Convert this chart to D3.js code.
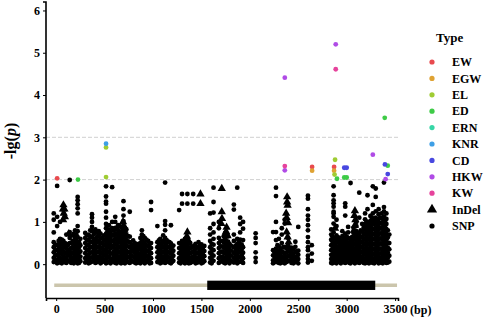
<!DOCTYPE html>
<html>
<head>
<meta charset="utf-8">
<script src="https://cdn.jsdelivr.net/npm/d3@7"></script>
<style>
  body { margin: 0; background: #fff; }
  text { font-family: "Liberation Serif", "Times New Roman", serif; font-weight: bold; }
</style>
</head>
<body>
<div id="chart"></div>
<script>
// SNP columns: [position (bp), -lg(p) values at that position]
const snpCols = [
  [-25, [0.05, 0.15, 0.28, 0.4, 0.52, 0.75, 1.05, 1.2]],
  [10, [0.02, 0.1, 0.22, 0.33, 0.45, 0.9, 1.12, 1.85]],
  [40, [0.04, 0.14, 0.26, 0.38, 0.5, 0.6, 1.0]],
  [75, [0.08, 0.18, 0.3, 0.42, 0.55]],
  [105, [0.03, 0.13, 0.25, 0.37, 0.48, 0.7]],
  [140, [0.06, 0.2, 0.35, 0.5, 0.62, 0.76, 1.99]],
  [170, [0.05, 0.15, 0.27, 0.4, 0.55, 0.68]],
  [195, [0.1, 0.22, 0.35, 0.48, 0.62, 0.8]],
  [222, [0.02, 0.12, 0.24, 0.36, 0.5, 0.64, 0.78, 0.9, 1.2, 1.32, 1.42, 1.51, 1.59]],
  [250, [0.07, 0.18, 0.3, 0.45, 0.6]],
  [300, [0.04, 0.14, 0.26, 0.38, 0.5, 0.62, 0.74]],
  [335, [0.02, 0.12, 0.22, 0.34, 0.46, 0.58, 0.7]],
  [370, [0.06, 0.16, 0.28, 0.4, 0.52, 0.64, 0.78, 0.88, 1.0, 1.1, 1.18]],
  [405, [0.03, 0.13, 0.24, 0.36, 0.48, 0.6, 0.74, 0.82]],
  [440, [0.08, 0.18, 0.3, 0.42, 0.55, 0.68, 0.78]],
  [475, [0.05, 0.15, 0.27, 0.38, 0.5, 0.62]],
  [515, [0.02, 0.12, 0.24, 0.36, 0.48, 0.6, 0.72, 0.85, 0.95, 1.1, 1.24, 1.43, 1.48, 1.6, 1.84]],
  [545, [0.06, 0.18, 0.3, 0.44, 0.58, 0.7, 0.82, 0.92]],
  [578, [0.1, 0.25, 0.4, 0.55, 0.7, 0.85, 1.0, 1.82]],
  [610, [0.03, 0.13, 0.25, 0.37, 0.49, 0.61, 0.73, 0.86, 1.0, 1.12]],
  [640, [0.07, 0.18, 0.3, 0.42, 0.55, 0.67, 0.8, 0.92]],
  [670, [0.02, 0.14, 0.26, 0.38, 0.5, 0.62, 0.75, 0.88]],
  [695, [0.05, 0.16, 0.28, 0.4, 0.53, 0.66, 0.78, 0.9, 1.02, 1.15, 1.3, 1.49]],
  [725, [0.08, 0.2, 0.32, 0.45, 0.57, 0.7, 0.82]],
  [760, [0.03, 0.15, 0.27, 0.4, 0.52, 0.65, 1.24]],
  [795, [0.06, 0.18, 0.3, 0.43, 0.56]],
  [825, [0.02, 0.12, 0.24, 0.36, 0.48]],
  [855, [0.04, 0.14, 0.25, 0.36, 0.48]],
  [885, [0.08, 0.2, 0.32, 0.44, 0.56, 0.7, 0.8]],
  [915, [0.02, 0.12, 0.24, 0.36, 0.5, 0.62]],
  [950, [0.06, 0.17, 0.3, 0.42, 0.55]],
  [980, [0.03, 0.14, 0.26, 0.38, 0.5, 1.28, 1.47]],
  [1045, [0.05, 0.16, 0.28, 0.4, 0.52, 0.9]],
  [1075, [0.02, 0.12, 0.24, 0.36, 0.48, 0.6]],
  [1105, [0.07, 0.18, 0.3, 0.42, 0.55, 0.68]],
  [1125, [0.03, 0.14, 0.26, 0.38, 0.5, 0.62, 0.8, 0.93, 1.02, 1.93]],
  [1155, [0.06, 0.17, 0.29, 0.41, 0.53]],
  [1185, [0.02, 0.13, 0.25, 0.37, 0.49, 0.92]],
  [1210, [0.08, 0.2, 0.32, 0.44]],
  [1270, [0.04, 0.14, 0.26, 0.38, 0.5, 1.28]],
  [1300, [0.08, 0.19, 0.31, 0.43, 0.55, 1.43, 1.66]],
  [1330, [0.02, 0.12, 0.23, 0.35, 0.47, 0.6]],
  [1355, [0.06, 0.17, 0.29, 0.41, 1.43, 1.66]],
  [1385, [0.03, 0.14, 0.26, 0.38, 0.5]],
  [1415, [0.07, 0.18, 0.3, 0.42, 1.43, 1.66]],
  [1440, [0.02, 0.13, 0.25, 0.37, 0.48]],
  [1470, [0.05, 0.16, 0.28, 0.4, 0.52]],
  [1500, [0.02, 0.12, 0.24, 0.36, 0.47]],
  [1530, [0.07, 0.19, 0.31, 0.43]],
  [1590, [0.04, 0.15, 0.27, 0.4, 0.55, 0.7, 0.85, 1.2]],
  [1625, [0.08, 0.2, 0.33, 0.46, 0.6, 0.75, 0.95, 1.22, 1.47, 1.81]],
  [1680, [0.03, 0.14, 0.26, 0.38, 0.5, 0.62, 0.85, 1.0]],
  [1715, [0.07, 0.18, 0.3, 0.42, 0.55]],
  [1745, [0.02, 0.13, 0.25, 0.37, 0.49, 0.62, 0.74]],
  [1775, [0.05, 0.17, 0.29, 0.41, 0.53, 0.66]],
  [1805, [0.08, 0.2, 0.32, 0.44]],
  [1835, [0.04, 0.15, 0.27, 0.4, 0.55, 0.7, 1.29, 1.41]],
  [1870, [0.02, 0.12, 0.24, 0.36, 0.48, 0.6, 1.81]],
  [1900, [0.06, 0.18, 0.3, 0.44, 0.58, 0.75, 0.95, 1.1]],
  [1930, [0.03, 0.14, 0.27, 0.4, 0.57, 0.84, 1.0]],
  [2060, [0.05, 0.15, 0.28, 0.5, 0.62, 0.73]],
  [2240, [0.02, 0.09, 0.21, 0.33, 0.76]],
  [2270, [0.05, 0.13, 0.25, 0.37, 0.57, 0.76, 1.0, 1.61, 1.81]],
  [2300, [0.03, 0.14, 0.27, 0.42, 0.6]],
  [2330, [0.06, 0.18, 0.3, 0.5, 0.7, 0.85]],
  [2360, [0.02, 0.12, 0.24, 0.4, 0.96, 1.05]],
  [2395, [0.07, 0.19, 0.3, 0.45, 0.62]],
  [2430, [0.03, 0.15, 0.27, 0.39]],
  [2470, [0.05, 0.17, 0.29, 0.41, 0.53]],
  [2500, [0.02, 0.12, 0.22, 0.32, 0.88]],
  [2600, [0.04, 0.12, 0.2, 0.33, 0.4, 0.52, 0.64, 0.8, 0.92, 1.05, 1.15, 1.3, 1.55, 1.62]],
  [2640, [0.08, 0.25, 0.45]],
  [2840, [0.03, 0.12, 0.22, 0.33, 0.45, 0.58, 0.7, 0.82]],
  [2865, [0.06, 0.16, 0.27, 0.38, 0.5, 0.62, 0.75, 0.96, 1.12, 1.2, 1.24, 1.36, 1.44, 1.51, 1.63, 1.84]],
  [2895, [0.02, 0.1, 0.2, 0.31, 0.42, 0.55, 0.68, 0.9, 1.05]],
  [2925, [0.05, 0.14, 0.25, 0.36, 0.48, 0.6]],
  [2955, [0.08, 0.18, 0.29, 0.4, 0.52, 0.66, 0.78]],
  [2985, [0.03, 0.12, 0.23, 0.34, 0.46, 0.58, 0.72, 1.15, 1.36, 1.44]],
  [3015, [0.06, 0.16, 0.27, 0.38, 0.5, 0.62, 0.75, 0.88]],
  [3040, [0.02, 0.11, 0.22, 0.33, 0.45, 0.57, 1.92]],
  [3070, [0.05, 0.15, 0.26, 0.37, 0.49, 0.61, 0.74, 0.86]],
  [3100, [0.08, 0.18, 0.29, 0.41, 0.53, 0.65, 0.78, 0.9, 1.0]],
  [3130, [0.03, 0.13, 0.24, 0.35, 0.47, 0.59, 0.72, 1.1, 1.69]],
  [3160, [0.06, 0.17, 0.28, 0.4, 0.52, 0.64, 0.77, 0.95]],
  [3190, [0.02, 0.12, 0.23, 0.34, 0.46, 0.58, 0.7, 0.82, 0.94, 1.06, 1.2]],
  [3215, [0.05, 0.15, 0.26, 0.37, 0.49, 0.61, 0.73, 0.85, 1.0, 1.3, 1.63]],
  [3245, [0.08, 0.18, 0.29, 0.41, 0.53, 0.65, 0.77, 0.89, 1.02, 1.14]],
  [3270, [0.03, 0.13, 0.24, 0.35, 0.47, 0.59, 0.71, 0.83, 0.96, 1.08, 1.2, 1.4, 1.84]],
  [3300, [0.06, 0.16, 0.27, 0.38, 0.5, 0.62, 0.74, 0.86, 0.98, 1.1, 1.25, 1.59, 1.79]],
  [3330, [0.02, 0.12, 0.23, 0.34, 0.46, 0.58, 0.7, 0.82, 0.94, 1.06, 1.18, 1.3]],
  [3360, [0.05, 0.15, 0.26, 0.37, 0.49, 0.61, 0.73, 0.85, 0.97, 1.09, 1.2]],
  [3385, [0.08, 0.18, 0.29, 0.41, 0.53, 0.65, 0.77, 0.89, 1.01, 1.13, 1.25, 1.35, 1.93]],
  [3410, [0.03, 0.13, 0.24, 0.35, 0.47, 0.59, 0.71, 0.83, 0.95, 1.07, 1.2]],
  [3440, [0.06, 0.2, 0.35, 0.5, 0.7]]
];

// more SNP columns that sit between the ones above, in the dense low band
const snpColsLow = [
  [-10, [0.1, 0.2, 0.33, 0.46]], [25, [0.07, 0.18, 0.3, 0.42, 0.55]], [58, [0.02, 0.12, 0.24, 0.35, 0.47, 0.58]],
  [90, [0.05, 0.16, 0.27, 0.4, 0.5]], [120, [0.09, 0.2, 0.32, 0.44]],
  [155, [0.03, 0.14, 0.26, 0.38, 0.5]], [182, [0.02, 0.12, 0.24, 0.36, 0.5, 0.72]],
  [208, [0.05, 0.17, 0.3, 0.42, 0.56, 0.7]], [236, [0.03, 0.14, 0.27, 0.4, 0.52]],
  [318, [0.09, 0.2, 0.32, 0.44, 0.56, 0.68]], [352, [0.04, 0.15, 0.27, 0.4, 0.53, 0.65, 0.8]],
  [388, [0.09, 0.2, 0.32, 0.45, 0.57, 0.7]], [422, [0.05, 0.16, 0.28, 0.4, 0.52, 0.64, 0.76]],
  [458, [0.02, 0.12, 0.24, 0.36, 0.48, 0.6, 0.72]], [495, [0.08, 0.2, 0.32, 0.45, 0.56, 0.68]],
  [530, [0.04, 0.15, 0.27, 0.4, 0.52, 0.65, 0.78]], [562, [0.02, 0.13, 0.25, 0.37, 0.5, 0.63, 0.76]],
  [595, [0.06, 0.18, 0.3, 0.43, 0.56, 0.68, 0.8]], [625, [0.02, 0.12, 0.24, 0.36, 0.48, 0.6, 0.72, 0.84]],
  [655, [0.05, 0.16, 0.28, 0.4, 0.52, 0.64, 0.76, 0.9]], [682, [0.08, 0.2, 0.32, 0.44, 0.56, 0.68, 0.8]],
  [710, [0.02, 0.12, 0.24, 0.36, 0.48, 0.6, 0.72, 0.86]], [742, [0.05, 0.17, 0.29, 0.42, 0.54, 0.66]],
  [778, [0.09, 0.21, 0.34, 0.46]], [810, [0.04, 0.15, 0.27, 0.39, 0.5]],
  [840, [0.08, 0.2, 0.32, 0.44]], [870, [0.02, 0.12, 0.24, 0.36, 0.5, 0.62]],
  [900, [0.05, 0.16, 0.28, 0.4, 0.52, 0.66]], [932, [0.08, 0.2, 0.32, 0.45, 0.58]],
  [965, [0.02, 0.12, 0.24, 0.36, 0.47]],
  [1060, [0.08, 0.2, 0.32, 0.44, 0.56]], [1090, [0.04, 0.15, 0.27, 0.39, 0.5]],
  [1140, [0.08, 0.2, 0.33, 0.45, 0.57]], [1170, [0.04, 0.15, 0.27, 0.4, 0.52]], [1198, [0.06, 0.17, 0.29, 0.41]],
  [1285, [0.02, 0.12, 0.24, 0.36, 0.48]], [1315, [0.05, 0.16, 0.28, 0.4, 0.52]],
  [1342, [0.08, 0.2, 0.32, 0.44, 0.56]], [1370, [0.02, 0.12, 0.24, 0.36, 0.48]],
  [1400, [0.05, 0.16, 0.28, 0.4]], [1428, [0.09, 0.2, 0.32, 0.44]],
  [1455, [0.04, 0.15, 0.27, 0.39]], [1485, [0.08, 0.2, 0.32, 0.44]], [1515, [0.04, 0.15, 0.27, 0.38]],
  [1605, [0.02, 0.12, 0.24, 0.36, 0.48]],
  [1695, [0.06, 0.17, 0.29, 0.42, 0.54]], [1730, [0.04, 0.15, 0.27, 0.4, 0.52, 0.66]],
  [1760, [0.08, 0.2, 0.33, 0.45]], [1790, [0.02, 0.12, 0.24, 0.36, 0.48]],
  [1852, [0.08, 0.2, 0.32, 0.44]], [1885, [0.05, 0.16, 0.28, 0.4, 0.52]], [1915, [0.09, 0.21, 0.34, 0.47]],
  [2255, [0.06, 0.17, 0.28]], [2285, [0.08, 0.19, 0.31, 0.45]], [2315, [0.02, 0.12, 0.23, 0.36]],
  [2345, [0.04, 0.15, 0.28, 0.4]], [2378, [0.05, 0.16, 0.28, 0.38]], [2412, [0.09, 0.2, 0.32]],
  [2450, [0.02, 0.12, 0.24, 0.36]], [2485, [0.08, 0.18, 0.3]],
  [2852, [0.02, 0.11, 0.21, 0.32, 0.43, 0.54, 0.66]], [2880, [0.04, 0.14, 0.24, 0.35, 0.47, 0.6]],
  [2910, [0.07, 0.17, 0.28, 0.4, 0.52, 0.64]], [2940, [0.02, 0.12, 0.22, 0.33, 0.45, 0.56]],
  [2970, [0.05, 0.15, 0.26, 0.38, 0.5, 0.62]], [3000, [0.08, 0.18, 0.29, 0.41, 0.53, 0.65]],
  [3028, [0.03, 0.13, 0.24, 0.36, 0.48, 0.6]], [3055, [0.07, 0.17, 0.28, 0.4, 0.52, 0.64]],
  [3085, [0.02, 0.12, 0.23, 0.35, 0.47, 0.59]], [3115, [0.05, 0.15, 0.26, 0.38, 0.5, 0.62, 0.74]],
  [3145, [0.08, 0.18, 0.29, 0.41, 0.53, 0.65, 0.8]], [3175, [0.03, 0.13, 0.24, 0.36, 0.48, 0.6, 0.72, 0.86]],
  [3203, [0.07, 0.17, 0.28, 0.4, 0.52, 0.64, 0.76, 0.88, 1.0]],
  [3230, [0.02, 0.12, 0.23, 0.35, 0.47, 0.59, 0.71, 0.83, 0.95]],
  [3258, [0.06, 0.16, 0.27, 0.39, 0.51, 0.63, 0.75, 0.87, 1.0, 1.1]],
  [3285, [0.02, 0.12, 0.23, 0.35, 0.47, 0.59, 0.71, 0.83, 0.95, 1.05]],
  [3315, [0.08, 0.18, 0.29, 0.41, 0.53, 0.65, 0.77, 0.89, 1.01]],
  [3345, [0.04, 0.14, 0.25, 0.37, 0.49, 0.61, 0.73, 0.85, 0.97, 1.1]],
  [3372, [0.02, 0.12, 0.23, 0.35, 0.47, 0.59, 0.71, 0.83, 0.95, 1.07]],
  [3398, [0.06, 0.16, 0.27, 0.39, 0.51, 0.63, 0.75, 0.87, 0.99]],
  [3425, [0.04, 0.15, 0.27, 0.39, 0.51, 0.63, 0.8]]
];

// InDel points: [position, -lg(p)]
const indels = [
  [75, 1.4], [70, 1.3], [85, 1.3], [78, 1.2], [90, 1.12], [72, 1.05], [130, 0.72], [140, 0.3],
  [690, 1.0], [700, 0.9], [705, 0.8], [690, 0.7], [890, 0.45], [900, 0.35],
  [1355, 0.76], [1350, 0.66], [1360, 0.58], [1345, 0.5], [1490, 1.66], [1490, 1.43],
  [1710, 1.79], [1710, 1.24], [1712, 1.08], [1705, 0.96], [1760, 0.87], [1755, 0.77], [1770, 0.67], [1750, 0.57],
  [2385, 1.59], [2385, 1.47], [2390, 1.39], [2375, 1.2], [2380, 1.1], [2395, 0.98], [2380, 0.76],
  [2390, 0.64], [2400, 0.52], [2410, 0.35], [2420, 0.22],
  [2880, 0.85], [3085, 1.26], [3080, 1.15], [3090, 1.05], [3085, 0.92], [3075, 0.8], [3095, 0.68]
];

// significant associations: [type, position, -lg(p)]
const hits = [
  ['EW', 10, 2.03], ['EW', 2643, 2.3], ['EW', 2870, 2.3],
  ['EGW', 2643, 2.21], ['EGW', 2870, 2.21],
  ['EL', 515, 2.76], ['EL', 515, 2.06], ['EL', 2880, 2.47], ['EL', 2875, 2.12],
  ['ED', 225, 2.0], ['ED', 2900, 2.02], ['ED', 2975, 2.05], ['ED', 3000, 2.05], ['ED', 3393, 3.46], ['ED', 3424, 2.33],
  ['KNR', 515, 2.85],
  ['CD', 2975, 2.28], ['CD', 3000, 2.28], ['CD', 3395, 2.36], ['CD', 3424, 2.13],
  ['HKW', 2361, 4.41], ['HKW', 2361, 2.22], ['HKW', 2887, 5.2], ['HKW', 3270, 2.59], ['HKW', 3402, 2.01],
  ['KW', 2361, 2.32], ['KW', 2887, 4.61]
];

const typeNames = ['EW', 'EGW', 'EL', 'ED', 'ERN', 'KNR', 'CD', 'HKW', 'KW'];
const typeColors = ['#e84a4e', '#dfa233', '#9fcc33', '#3ecb47', '#36d6a6', '#3e9fe6', '#4848e0', '#b04be6', '#e6439c'];

const xTicks = [0, 500, 1000, 1500, 2000, 2500, 3000, 3500];
const yTicks = [0, 1, 2, 3, 4, 5, 6];
const threshold = [2, 3];

// gene model (bp) and its track height on the y scale
const geneSpan = [-20, 3520];
const cdsSpan = [1560, 3295];
const geneTrack = -0.5;

const width = 484, height = 317;
const svg = d3.select('#chart').append('svg')
  .attr('width', width)
  .attr('height', height);

const x = d3.scaleLinear().domain([-105, 3530]).range([46, 398]);
const y = d3.scaleLinear().domain([-0.8, 6.2]).range([298, 2]);
const color = d3.scaleOrdinal().domain(typeNames).range(typeColors);

// threshold lines
svg.append('g').selectAll('line')
  .data(threshold)
  .join('line')
  .attr('x1', x.range()[0]).attr('x2', x.range()[1])
  .attr('y1', d => y(d)).attr('y2', d => y(d))
  .attr('stroke', '#c4c4c4')
  .attr('stroke-width', 0.8)
  .attr('stroke-dasharray', '4,2');

// gene structure
svg.append('line')
  .attr('x1', x(geneSpan[0])).attr('x2', x(geneSpan[1]))
  .attr('y1', y(geneTrack)).attr('y2', y(geneTrack))
  .attr('stroke', '#cbc5ac')
  .attr('stroke-width', 3.5);

svg.append('rect')
  .attr('x', x(cdsSpan[0]))
  .attr('width', x(cdsSpan[1]) - x(cdsSpan[0]))
  .attr('y', y(geneTrack + 0.11))
  .attr('height', y(geneTrack - 0.11) - y(geneTrack + 0.11))
  .attr('fill', '#000');

// SNPs
const snps = snpCols.concat(snpColsLow).flatMap(([pos, vals]) => vals.map(v => ({ pos, v })));
svg.append('g').selectAll('circle')
  .data(snps)
  .join('circle')
  .attr('cx', d => x(d.pos))
  .attr('cy', d => y(d.v))
  .attr('r', 2.4)
  .attr('fill', '#000');

// InDels
const tri = d3.symbol().type(d3.symbolTriangle).size(30);
svg.append('g').selectAll('path')
  .data(indels)
  .join('path')
  .attr('d', tri)
  .attr('transform', d => `translate(${x(d[0])},${y(d[1])})`)
  .attr('fill', '#000');

// significant points
svg.append('g').selectAll('circle')
  .data(hits)
  .join('circle')
  .attr('cx', d => x(d[1]))
  .attr('cy', d => y(d[2]))
  .attr('r', 2.4)
  .attr('fill', d => color(d[0]));

// axes
const xAxis = svg.append('g')
  .attr('transform', `translate(0,${y.range()[0]})`)
  .call(d3.axisBottom(x).tickValues(xTicks).tickFormat(d3.format('d')).tickSize(3).tickPadding(3));
const yAxis = svg.append('g')
  .attr('transform', `translate(${x.range()[0]},0)`)
  .call(d3.axisLeft(y).tickValues(yTicks).tickFormat(d3.format('d')).tickSize(3).tickPadding(3));

[xAxis, yAxis].forEach(g => {
  g.select('.domain').attr('stroke', '#000').attr('stroke-width', 1.6);
  g.selectAll('.tick line').attr('stroke', '#000').attr('stroke-width', 1);
  g.selectAll('.tick text')
    .attr('fill', '#000')
    .style('font-size', '12px')
    .style('font-family', '"Liberation Serif", "Times New Roman", serif')
    .style('font-weight', 'bold');
});
yAxis.select('.domain').attr('d', `M-3,${y.range()[1]}H0V${y.range()[0]}`);

svg.append('text')
  .attr('x', x(3500) + 15)
  .attr('y', 314)
  .style('font-size', '12px')
  .text('(bp)');

// y label
const yl = svg.append('text')
  .attr('transform', 'translate(16,141) rotate(-90)')
  .attr('text-anchor', 'middle')
  .style('font-size', '16px');
yl.append('tspan').text('-lg(');
yl.append('tspan').style('font-style', 'italic').text('p');
yl.append('tspan').text(')');

// legend
const legend = svg.append('g');
legend.append('text')
  .attr('x', 436)
  .attr('y', 42)
  .style('font-size', '13px')
  .text('Type');

const legendItems = typeNames.map(t => ({ label: t, kind: 'dot', fill: color(t) }))
  .concat([{ label: 'InDel', kind: 'tri', fill: '#000' }, { label: 'SNP', kind: 'dot', fill: '#000' }]);

const item = legend.selectAll('g.item')
  .data(legendItems)
  .join('g')
  .attr('class', 'item')
  .attr('transform', (d, i) => `translate(432,${62 + i * 16.4})`);

item.filter(d => d.kind === 'dot').append('circle')
  .attr('r', 2.6)
  .attr('fill', d => d.fill);
item.filter(d => d.kind === 'tri').append('path')
  .attr('d', d3.symbol().type(d3.symbolTriangle).size(45))
  .attr('fill', '#000');
item.append('text')
  .attr('x', 20)
  .attr('dy', '0.35em')
  .style('font-size', '12px')
  .text(d => d.label);
</script>
</body>
</html>
